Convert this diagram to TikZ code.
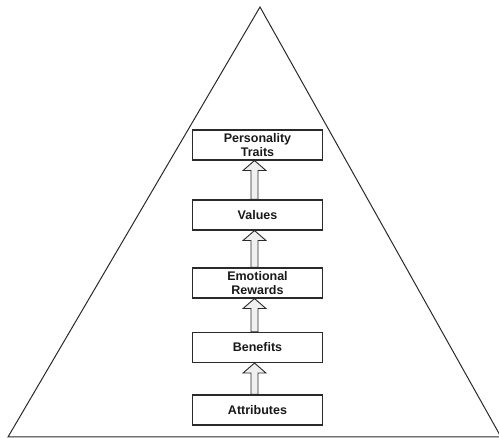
\documentclass[tikz,border=0pt]{standalone}
\usepackage{fontspec}
\setmainfont{Liberation Sans}
\usetikzlibrary{calc}
\definecolor{edge}{HTML}{2A2A2A}
\definecolor{arrfill}{HTML}{F0F0F0}
\tikzset{
  level/.style={draw=edge, line width=1.1pt, minimum width=130pt, minimum height=30pt,
    inner sep=0pt, align=center, font=\fontsize{12.5}{14.5}\selectfont\bfseries, text=black!90},
  arr/.style={draw=edge, line width=0.9pt, fill=arrfill, line join=miter},
  tri/.style={draw=edge, line width=1pt}
}
\newcommand\blockup[2]{%
  \draw[arr] let \p1=(#1.north), \p2=(#2.south) in
    (\x1-3pt-3.5pt,\y1) -- (\x1-3pt-3.5pt,\y2-10pt) -- (\x1-3pt-11.5pt,\y2-10pt) --
    (\x1-3pt,\y2) -- (\x1-3pt+11.5pt,\y2-10pt) -- (\x1-3pt+3.5pt,\y2-10pt) --
    (\x1-3pt+3.5pt,\y1) -- cycle;}
\begin{document}
\begin{tikzpicture}[x=1pt,y=-1pt]
\useasboundingbox (0,0) rectangle (499,438);
\begin{scope}
\clip (0,0) rectangle (499,438);
\coordinate (apex) at (260,7);
\coordinate (bl) at (8,437);
\coordinate (br) at (501,437);
\draw[tri] (apex) -- (bl) -- (br) -- cycle;
\end{scope}
\node[level] (pt) at (257.5,145) {Personality\\Traits};
\node[level] (va) at (257.5,215) {Values};
\node[level] (er) at (257.5,283) {Emotional\\Rewards};
\node[level] (be) at (257.5,347.5) {Benefits};
\node[level] (at) at (257.5,410) {Attributes};
\blockup{at}{be}
\blockup{be}{er}
\blockup{er}{va}
\blockup{va}{pt}
\end{tikzpicture}
\end{document}
